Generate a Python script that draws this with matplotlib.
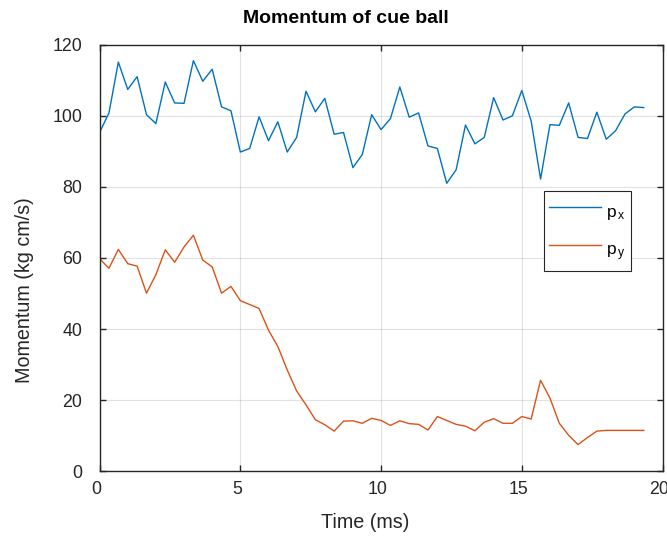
import numpy as np
import matplotlib
matplotlib.use("Agg")
import matplotlib.pyplot as plt
from matplotlib.transforms import ScaledTranslation

plt.rcParams['font.family'] = ['Liberation Sans', 'DejaVu Sans']

# Time in ms (sampled every 1/3 ms)
time_ms = np.arange(59) / 3.0

px = [95.3, 100.8, 115.1, 107.4, 111.0, 100.3, 97.8, 109.5, 103.6, 103.5,
      115.5, 109.7, 113.1, 102.5, 101.4, 89.8, 90.8, 99.7, 93.0, 98.3,
      89.8, 93.9, 106.9, 101.1, 104.9, 94.8, 95.3, 85.4, 89.1, 100.3,
      96.1, 99.2, 108.1, 99.6, 100.8, 91.5, 90.8, 81.0, 84.8, 97.4,
      92.1, 93.9, 105.1, 98.8, 100.0, 107.1, 98.5, 82.2, 97.5, 97.3,
      103.6, 93.9, 93.6, 101.0, 93.4, 95.8, 100.5, 102.5, 102.3]

py = [59.8, 57.1, 62.4, 58.4, 57.7, 50.1, 55.3, 62.3, 58.8, 63.1,
      66.4, 59.4, 57.5, 50.1, 52.0, 48.0, 46.9, 45.8, 39.7, 35.1,
      28.5, 22.6, 18.7, 14.5, 13.1, 11.3, 14.1, 14.2, 13.5, 14.9,
      14.3, 12.9, 14.2, 13.4, 13.2, 11.6, 15.4, 14.3, 13.2, 12.7,
      11.4, 13.8, 14.8, 13.5, 13.5, 15.4, 14.7, 25.6, 20.6, 13.5,
      10.1, 7.5, 9.5, 11.3, 11.5, 11.5, 11.5, 11.5, 11.5]

xticks = [0, 5, 10, 15, 20]
yticks = [0, 20, 40, 60, 80, 100, 120]
labels = [r'$\mathregular{p_{\,x}}$', r'$\mathregular{p_{\,y}}$']

DARK = '#262626'

fig = plt.figure(figsize=(6.67, 5.38), dpi=100)
ax = fig.add_axes([0.1493, 0.124, 0.8440, 0.793])

ax.plot(time_ms, px, color='#0072BD', lw=1.0, label=labels[0])
ax.plot(time_ms, py, color='#D95319', lw=1.0, label=labels[1])

ax.set_xlim(0, 20)
ax.set_ylim(0, 120)
ax.set_xticks(xticks)
ax.set_yticks(yticks)
ax.grid(True, color=DARK, alpha=0.13, lw=0.8)
ax.set_axisbelow(True)
for s in ax.spines.values():
    s.set_color(DARK)
    s.set_linewidth(1.0)
ax.tick_params(direction='in', length=4, width=1.0, color=DARK,
               labelcolor=DARK, labelsize=12.8, top=True, right=True)
ax.tick_params(axis='x', pad=7.2)
ax.tick_params(axis='y', pad=12.5)

# shift x tick labels slightly left, as in the reference rendering
shift = ScaledTranslation(-3 / 100, 0, fig.dpi_scale_trans)
for lab in ax.get_xticklabels():
    lab.set_transform(lab.get_transform() + shift)

ax.set_title('Momentum of cue ball', fontsize=14, fontweight='bold',
             x=0.4377, y=1.0502, va='baseline', pad=0)
ax.set_xlabel('Time (ms)', fontsize=14.2, color=DARK)
ax.xaxis.set_label_coords(0.4724, -0.0975)
ax.set_ylabel('Momentum (kg cm/s)', fontsize=14.2, color=DARK, ha='left')
ax.yaxis.set_label_coords(-0.116, 0.207)

leg = ax.legend(loc='upper left', bbox_to_anchor=(0.789, 0.658),
                borderaxespad=0, fontsize=12.5, fancybox=False,
                edgecolor=DARK, framealpha=1, handlelength=3.0,
                handleheight=2.4, labelspacing=0.38, borderpad=0.32,
                handletextpad=0.25)
leg.get_frame().set_linewidth(0.8)

fig.savefig('out.png', dpi=100)
